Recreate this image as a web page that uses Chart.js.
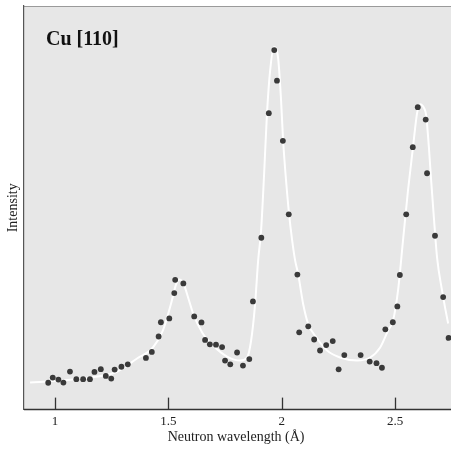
<!DOCTYPE html>
<html>
<head>
<meta charset="utf-8">
<script src="https://cdn.jsdelivr.net/npm/chart.js@4/dist/chart.umd.min.js"></script>
<style>
html,body{margin:0;padding:0;background:#fff;}
#wrap{width:451px;height:452px;position:relative;}
</style>
</head>
<body>
<div id="wrap"><canvas id="c" width="451" height="452"></canvas></div>
<script>
// Measured data points (wavelength in Å, intensity in arbitrary units)
const pointX = [0.970,0.990,1.015,1.037,1.066,1.094,1.124,1.154,1.174,1.202,1.224,1.248,1.263,1.293,1.321,
  1.401,1.427,1.457,1.467,1.504,1.526,1.530,1.566,1.614,1.646,1.662,1.683,1.710,1.737,1.750,1.773,1.803,1.829,1.857,
  1.873,1.910,1.943,1.967,1.979,2.005,2.031,2.069,2.077,2.117,2.143,2.169,2.196,2.225,2.251,2.276,2.348,2.388,2.418,2.442,
  2.457,2.490,2.510,2.521,2.549,2.578,2.600,2.635,2.641,2.676,2.712,2.736];
const pointY = [6.7,8.0,7.5,6.75,9.5,7.6,7.6,7.6,9.4,10.1,8.4,7.75,10.0,10.7,11.3,
  12.9,14.4,18.25,21.8,22.75,29.1,32.4,31.5,23.25,21.75,17.4,16.3,16.2,15.6,12.25,11.3,14.25,11.0,12.6,
  27.0,42.9,74.0,89.75,82.1,67.1,48.75,33.7,19.3,20.8,17.5,14.75,16.1,17.1,10.05,13.6,13.6,12.0,11.6,10.45,
  20.05,21.8,25.75,33.6,48.75,65.5,75.5,72.4,59.0,43.4,28.1,17.9];

// White fitted curve
const curveX = [0.890,1.022,1.154,1.265,1.362,1.432,1.476,1.512,1.534,1.547,1.565,1.587,1.609,1.649,1.697,1.759,1.816,1.847,
  1.865,1.882,1.896,1.909,1.922,1.935,1.949,1.966,1.984,1.997,2.006,2.019,2.032,2.046,2.059,2.072,2.094,2.116,2.156,2.200,
  2.257,2.332,2.390,2.434,2.469,2.491,2.513,2.535,2.557,2.579,2.597,2.610,2.628,2.637,2.650,2.659,2.672,2.685,2.707,2.734,2.747];
const curveY = [6.75,7.25,8.0,9.25,12.75,15.5,19.75,26.5,31.25,32.5,31.75,28.0,24.0,19.25,16.0,13.25,12.25,13.0,
  17.25,26.0,37.25,44.75,58.5,74.0,84.75,90.5,87.75,77.25,67.25,57.25,49.0,42.25,37.25,34.0,26.5,21.5,17.75,14.75,
  13.0,12.25,13.0,15.5,19.75,22.25,29.75,42.25,54.75,65.5,74.0,76.25,75.25,73.5,64.75,57.25,47.25,38.0,29.75,21.5,18.25];

const xTicks = [1, 1.5, 2, 2.5];
const xTickLabels = ['1', '1.5', '2', '2.5'];
const titleText = 'Cu [110]';
const xTitle = 'Neutron wavelength (Å)';
const yTitle = 'Intensity';

const points = pointX.map((x,i)=>({x:x,y:pointY[i]}));
const curve = curveX.map((x,i)=>({x:x,y:curveY[i]}));

const serif = '"Liberation Serif", "Times New Roman", serif';

const framePlugin = {
  id:'frame',
  beforeDraw(chart){
    const {ctx, chartArea:a} = chart;
    ctx.save();
    ctx.fillStyle = '#e7e7e7';
    ctx.fillRect(a.left, a.top, chart.width-a.left, a.bottom-a.top);
    ctx.strokeStyle = '#9a9a9a';
    ctx.lineWidth = 1;
    ctx.beginPath();
    ctx.moveTo(a.left, a.top+0.5);
    ctx.lineTo(chart.width, a.top+0.5);
    ctx.stroke();
    ctx.restore();
  },
  afterDraw(chart){
    const {ctx, chartArea:a, scales} = chart;
    ctx.save();
    // bottom axis line, running to the edge of the picture
    ctx.strokeStyle = '#333';
    ctx.lineWidth = 1.5;
    ctx.beginPath();
    ctx.moveTo(a.left, a.bottom);
    ctx.lineTo(chart.width, a.bottom);
    ctx.stroke();
    // inward tick marks
    ctx.lineWidth = 1.3;
    scales.x.ticks.forEach(t=>{
      const px = Math.round(scales.x.getPixelForValue(t.value))+0.5;
      ctx.beginPath();
      ctx.moveTo(px, a.bottom);
      ctx.lineTo(px, a.bottom-12);
      ctx.stroke();
    });
    ctx.fillStyle = '#111';
    ctx.font = 'bold 20px ' + serif;
    ctx.textBaseline = 'alphabetic';
    ctx.fillText(titleText, 46, 45);
    ctx.restore();
  }
};

new Chart(document.getElementById('c'), {
  data:{
    datasets:[
      {type:'scatter', data:points, pointRadius:2.9, pointBackgroundColor:'#3a3a3a', pointBorderWidth:0, pointHoverRadius:2.9,
        clip:{left:0, top:0, right:6, bottom:0}},
      {type:'line', data:curve, borderColor:'#ffffff', borderWidth:2, pointRadius:0, fill:false, cubicInterpolationMode:'monotone',
        clip:{left:0, top:0, right:6, bottom:0}}
    ]
  },
  options:{
    responsive:false,
    animation:false,
    events:[],
    layout:{padding:{left:5, right:0, top:6, bottom:6}},
    plugins:{legend:{display:false}, tooltip:{enabled:false}},
    scales:{
      x:{
        type:'linear', min:0.8632, max:2.7338,
        afterBuildTicks(scale){ scale.ticks = xTicks.map(v=>({value:v})); },
        ticks:{callback:(v)=>{const i = xTicks.indexOf(v); return i>=0 ? xTickLabels[i] : '';},
          color:'#222', font:{family:serif, size:13}, padding:4, maxRotation:0, autoSkip:false},
        grid:{display:false, drawTicks:false},
        border:{display:false},
        title:{display:true, text:xTitle, color:'#222', font:{family:serif, size:14}, padding:{top:-4,bottom:0}}
      },
      y:{
        type:'linear', min:0, max:100.75,
        ticks:{display:false},
        grid:{display:false, drawTicks:false},
        border:{display:true, color:'#555', width:1.2},
        title:{display:true, text:yTitle, color:'#222', font:{family:serif, size:14}, padding:{top:0,bottom:2.2}}
      }
    }
  },
  plugins:[framePlugin]
});
</script>
</body>
</html>
